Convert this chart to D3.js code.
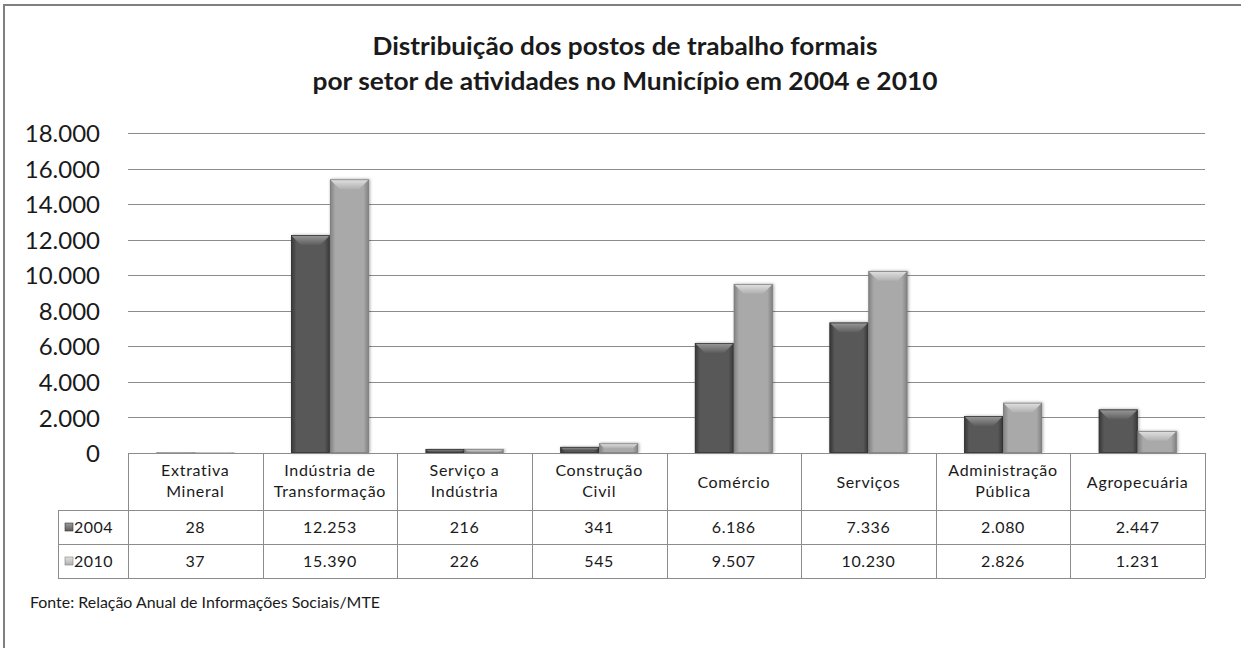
<!DOCTYPE html>
<html>
<head>
<meta charset="utf-8">
<script src="https://cdn.jsdelivr.net/npm/d3@7/dist/d3.min.js"></script>
<style>
  body { margin: 0; background: #fff; }
  text { font-family: Lato, "Open Sans", sans-serif; fill: #1a1a1a; }
</style>
</head>
<body>
<div id="chart"></div>
<script>
var categories = ["Extrativa\nMineral", "Indústria de\nTransformação", "Serviço a\nIndústria",
  "Construção\nCivil", "Comércio", "Serviços", "Administração\nPública", "Agropecuária"];
var years = ["2004", "2010"];
var values2004 = [28, 12253, 216, 341, 6186, 7336, 2080, 2447];
var values2010 = [37, 15390, 226, 545, 9507, 10230, 2826, 1231];
var yTicks = [0, 2000, 4000, 6000, 8000, 10000, 12000, 14000, 16000, 18000];
var titleLines = ["Distribuição dos postos de trabalho formais",
  "por setor de atividades no Município em 2004 e 2010"];
var source = "Fonte: Relação Anual de Informações Sociais/MTE";

var _width = 1241, _height = 648;
var plotLeft = 128, plotRight = 1205, plotTop = 133, plotBottom = 453;
var rowH = [57, 34, 34];

var ptBR = d3.formatLocale({decimal: ",", thousands: ".", grouping: [3], currency: ["R$", ""]});
var fmt = ptBR.format(",d");

var svg = d3.select("#chart").append("svg")
  .attr("width", _width)
  .attr("height", _height);

var defs = svg.append("defs");
var palette = {
  "2004": {edge: "#363636", mid: "#595959", bevelTop: "#9a9a9a", bevelBot: "#5e5e5e"},
  "2010": {edge: "#808080", mid: "#a9a9a9", bevelTop: "#e2e2e2", bevelBot: "#b0b0b0"}
};
years.forEach(function (y) {
  var p = palette[y];
  var g = defs.append("linearGradient").attr("id", "side" + y)
    .attr("x1", "0").attr("x2", "1").attr("y1", "0").attr("y2", "0");
  g.append("stop").attr("offset", "0%").attr("stop-color", p.edge);
  g.append("stop").attr("offset", "14%").attr("stop-color", p.mid);
  g.append("stop").attr("offset", "86%").attr("stop-color", p.mid);
  g.append("stop").attr("offset", "100%").attr("stop-color", p.edge);
  var b = defs.append("linearGradient").attr("id", "bevel" + y)
    .attr("x1", "0").attr("x2", "0").attr("y1", "0").attr("y2", "1");
  b.append("stop").attr("offset", "0%").attr("stop-color", p.bevelTop);
  b.append("stop").attr("offset", "100%").attr("stop-color", p.bevelBot);
});
defs.append("filter").attr("id", "shadow")
  .attr("x", "-20%").attr("y", "-20%").attr("width", "140%").attr("height", "140%")
  .append("feDropShadow").attr("dx", 1).attr("dy", 0).attr("stdDeviation", 1.5)
  .attr("flood-color", "#000").attr("flood-opacity", 0.35);

// frame
svg.append("path")
  .attr("d", "M4," + _height + "V5H" + _width)
  .attr("fill", "none").attr("stroke", "#808080").attr("stroke-width", 2);

// title
var titleWidths = [505, 625];
svg.selectAll("text.title").data(titleLines).enter().append("text")
  .attr("class", "title")
  .attr("x", 625)
  .attr("y", function (d, i) { return 55 + i * 35; })
  .attr("text-anchor", "middle")
  .attr("textLength", function (d, i) { return titleWidths[i]; })
  .attr("lengthAdjust", "spacingAndGlyphs")
  .style("font-size", "24px").style("font-weight", "bold")
  .text(function (d) { return d; });

var x = d3.scaleBand().domain(d3.range(categories.length)).range([plotLeft, plotRight]).paddingInner(0).paddingOuter(0);
var x1 = d3.scaleBand().domain(years).range([0, x.bandwidth()]).paddingOuter(0.73).paddingInner(0);
var y = d3.scaleLinear().domain([0, 18000]).range([plotBottom, plotTop]);

// gridlines
svg.append("g").selectAll("line").data(yTicks).enter().append("line")
  .attr("x1", plotLeft).attr("x2", plotRight)
  .attr("y1", function (d) { return Math.round(y(d)) + 0.5; })
  .attr("y2", function (d) { return Math.round(y(d)) + 0.5; })
  .attr("stroke", "#8c8c8c").attr("stroke-width", 1);

// y labels
var yAxis = d3.axisLeft(y).tickValues(yTicks).tickFormat(fmt).tickSize(0).tickPadding(0);
var yg = svg.append("g").attr("transform", "translate(100,0)").call(yAxis);
yg.select(".domain").remove();
yg.selectAll("text")
  .style("font-size", "24px").style("font-family", "Lato, sans-serif").attr("fill", "#1a1a1a")
  .attr("dy", "0.36em");

// bars
var series = [values2004, values2010];
var barData = [];
categories.forEach(function (c, i) {
  years.forEach(function (yr, j) {
    barData.push({i: i, year: yr, value: series[j][i]});
  });
});
var bars = svg.append("g").selectAll("g.bar").data(barData).enter().append("g")
  .attr("class", "bar")
  .attr("filter", "url(#shadow)");
bars.each(function (d) {
  var g = d3.select(this);
  var p = palette[d.year];
  var bx = x(d.i) + x1(d.year), bw = x1.bandwidth();
  var by = y(d.value), bh = plotBottom - by;
  g.append("rect").attr("x", bx).attr("y", by).attr("width", bw).attr("height", bh)
    .attr("fill", "url(#side" + d.year + ")");
  var b = Math.min(12, bh / 2, bw / 4);
  g.append("path")
    .attr("d", "M" + bx + "," + by + "H" + (bx + bw) + "L" + (bx + bw - b) + "," + (by + b) +
      "H" + (bx + b) + "Z")
    .attr("fill", "url(#bevel" + d.year + ")");
  g.append("rect").attr("x", bx + 0.4).attr("y", by + 0.4).attr("width", bw - 0.8).attr("height", Math.max(0, bh - 0.8))
    .attr("fill", "none").attr("stroke", p.edge).attr("stroke-width", 0.8);
});

// data table
var tableTop = plotBottom, legendLeft = 58;
var tbl = svg.append("g").attr("fill", "none").attr("stroke", "#8c8c8c").attr("stroke-width", 1);
var r1 = tableTop + rowH[0], r2 = r1 + rowH[1], r3 = r2 + rowH[2];
[tableTop, r1, r2, r3].forEach(function (yy, k) {
  tbl.append("line").attr("x1", k ? legendLeft : plotLeft).attr("x2", plotRight)
    .attr("y1", yy + 0.5).attr("y2", yy + 0.5);
});
tbl.append("line").attr("x1", legendLeft + 0.5).attr("x2", legendLeft + 0.5).attr("y1", r1).attr("y2", r3);
d3.range(categories.length + 1).forEach(function (i) {
  var xx = Math.round(i < categories.length ? x(i) : plotRight) + 0.5;
  tbl.append("line").attr("x1", xx).attr("x2", xx).attr("y1", tableTop).attr("y2", r3);
});

var cats = svg.append("g").selectAll("text.cat").data(categories).enter().append("text")
  .attr("class", "cat")
  .attr("text-anchor", "middle")
  .style("font-size", "16px").style("letter-spacing", "0.7px");
cats.each(function (d, i) {
  var lines = d.split("\n");
  var cx = x(i) + x.bandwidth() / 2;
  var t = d3.select(this);
  lines.forEach(function (l, k) {
    var yy = lines.length === 1 ? tableTop + 35 : tableTop + 23 + k * 21;
    t.append("tspan").attr("x", cx).attr("y", yy).text(l);
  });
});

series.forEach(function (vals, j) {
  var rowMid = (j === 0 ? r1 : r2) + rowH[1] / 2;
  svg.append("g").selectAll("text").data(vals).enter().append("text")
    .attr("x", function (d, i) { return x(i) + x.bandwidth() / 2; })
    .attr("y", rowMid).attr("dy", "0.36em")
    .attr("text-anchor", "middle")
    .style("font-size", "16px").style("letter-spacing", "0.6px")
    .text(function (d) { return fmt(d); });
  var lg = svg.append("g").attr("transform", "translate(65," + (rowMid - 4) + ")");
  lg.append("rect").attr("width", 8).attr("height", 8)
    .attr("fill", "url(#bevel" + years[j] + ")").attr("stroke", palette[years[j]].edge).attr("stroke-width", 0.6);
  lg.append("text").attr("x", 9).attr("y", 4).attr("dy", "0.36em")
    .style("font-size", "16px").style("letter-spacing", "0.5px").text(years[j]);
});

// source
svg.append("text").attr("x", 30).attr("y", 608)
  .attr("textLength", 350).attr("lengthAdjust", "spacingAndGlyphs")
  .style("font-size", "15px")
  .text(source);
</script>
</body>
</html>
